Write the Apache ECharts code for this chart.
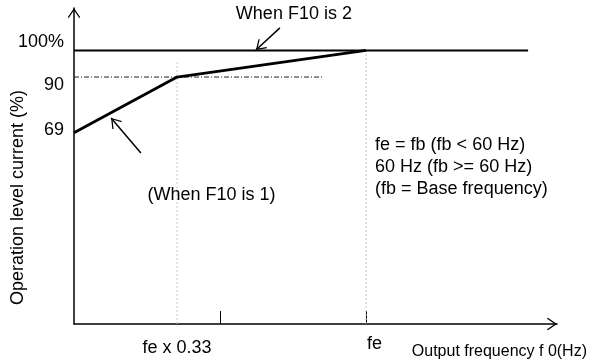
<!DOCTYPE html>
<html>
<head>
<meta charset="utf-8">
<script src="https://cdn.jsdelivr.net/npm/echarts@6/dist/echarts.min.js"></script>
<style>
  html, body { margin: 0; padding: 0; background: #fff; }
  #chart { width: 589px; height: 364px; }
</style>
</head>
<body>
<div id="chart"></div>
<script>
// x is in units of fe (fe = 1), y is operation level current in %
const lineF10is1 = [[0, 69], [0.353, 90], [1, 100]];
const lineF10is2 = [[0, 100], [1.555, 100]];
const level90 = [[0, 90], [0.853, 90]];
const guideBend = [[0.353, -3], [0.353, 95.6]];
const guideFe = [[1, -3], [1, 100]];

const yLabelValues = [100, 90, 69];
const yLabelTexts = ["100%", "90", "69"];
const xLabelValues = [0.353, 1];
const xLabelTexts = ["fe x 0.33", "fe"];
const xTickValues = [0.5, 1];

// pointer arrows, [from, to]
const arrowF10is2 = [[0.705, 108.5], [0.623, 100.2]];
const arrowF10is1 = [[0.229, 61.4], [0.127, 74.6]];

const noteTexts = [
  "When F10 is 2",
  "(When F10 is 1)",
  "fe = fb (fb < 60 Hz)\n60 Hz (fb >= 60 Hz)\n(fb = Base frequency)",
];
const noteAnchors = [[0.753, 113.8], [0.471, 45.6], [1.031, 56.1]];

// open chevron, tip at the centre of its box
const chevron =
  "path://M0,0 L0,0 Z M100,0 L100,0 Z M50,50 L81,96 L76,100 L50,61 L24,100 L19,96 Z";

const font = "Liberation Sans";
const chart = echarts.init(document.getElementById("chart"));

const yRich = {
  a: { fontSize: 18, fontFamily: font, color: "#000", padding: [0, 0, 16, 0] },
  b: { fontSize: 18, fontFamily: font, color: "#000", padding: [16, 0, 0, 0] },
  c: { fontSize: 18, fontFamily: font, color: "#000", padding: [0, 0, 5, 0] },
};
const xRich = {
  a: { fontSize: 18, fontFamily: font, color: "#000", padding: [4, 0, 0, 0] },
  b: { fontSize: 18, fontFamily: font, color: "#000", padding: [0, 0, 0, 17] },
};

const option = {
  animation: false,
  backgroundColor: "#fff",
  grid: {
    left: 74,
    right: 32,
    top: 8,
    bottom: 40,
    containLabel: false,
    outerBoundsMode: "none",
  },
  xAxis: {
    type: "value",
    min: 0,
    max: 1.654,
    position: "bottom",
    name: "Output frequency f 0(Hz)",
    nameLocation: "end",
    nameGap: 30,
    nameMoveOverlap: false,
    nameTextStyle: {
      fontFamily: font,
      fontSize: 16,
      color: "#000",
      align: "right",
      verticalAlign: "top",
      padding: [20, 0, 0, 0],
    },
    axisLine: {
      onZero: false,
      symbol: ["none", chevron],
      symbolSize: [20, 20],
      lineStyle: { color: "#000", width: 1.5 },
    },
    axisTick: {
      show: true,
      inside: true,
      length: 13,
      customValues: xTickValues,
      lineStyle: { color: "#000", width: 1 },
    },
    axisLabel: {
      show: true,
      customValues: xLabelValues,
      margin: 11,
      formatter: function (v) {
        const i = xLabelValues.indexOf(v);
        if (i < 0) return "";
        return "{" + (i === 0 ? "a" : "b") + "|" + xLabelTexts[i] + "}";
      },
      rich: xRich,
    },
    splitLine: { show: false },
  },
  yAxis: {
    type: "value",
    min: -3,
    max: 116,
    name: "Operation level current (%)",
    nameLocation: "middle",
    nameGap: 47,
    nameMoveOverlap: false,
    nameTextStyle: {
      fontFamily: font,
      fontSize: 18,
      color: "#000",
      padding: [0, 63, 0, 0],
    },
    axisLine: {
      show: true,
      symbol: ["none", chevron],
      symbolSize: [20, 20],
      lineStyle: { color: "#000", width: 1.5 },
    },
    axisTick: { show: false },
    axisLabel: {
      show: true,
      customValues: yLabelValues,
      margin: 10,
      formatter: function (v) {
        const i = yLabelValues.indexOf(v);
        if (i < 0) return "";
        return "{" + ["a", "b", "c"][i] + "|" + yLabelTexts[i] + "}";
      },
      rich: yRich,
    },
    splitLine: { show: false },
  },
  series: [
    {
      name: "guide bend",
      type: "line",
      data: guideBend,
      symbol: "none",
      lineStyle: { color: "#c4c4c4", width: 1, type: [2, 2] },
      z: 1,
    },
    {
      name: "guide fe",
      type: "line",
      data: guideFe,
      symbol: "none",
      lineStyle: { color: "#c4c4c4", width: 1, type: [2, 2] },
      z: 1,
    },
    {
      name: "90 level",
      type: "line",
      data: level90,
      symbol: "none",
      lineStyle: { color: "#222", width: 1, type: [5, 2, 1, 2] },
      z: 2,
    },
    {
      name: "When F10 is 2",
      type: "line",
      data: lineF10is2,
      symbol: "none",
      lineStyle: { color: "#000", width: 2 },
      z: 3,
    },
    {
      name: "When F10 is 1",
      type: "line",
      data: lineF10is1,
      symbol: "none",
      lineStyle: { color: "#000", width: 2.8 },
      z: 4,
    },
    {
      name: "pointers",
      type: "lines",
      coordinateSystem: "cartesian2d",
      symbol: ["none", chevron],
      symbolSize: 20,
      lineStyle: { color: "#000", width: 1.5, opacity: 1 },
      data: [{ coords: arrowF10is2 }, { coords: arrowF10is1 }],
      z: 5,
    },
    {
      name: "notes",
      type: "scatter",
      symbolSize: 0,
      silent: true,
      data: noteTexts.map(function (t, i) {
        const item = { value: noteAnchors[i].concat([i]) };
        if (i === 2) {
          item.label = { position: "right", distance: 0, align: "left" };
        }
        return item;
      }),
      label: {
        show: true,
        position: "inside",
        fontFamily: font,
        fontSize: 18,
        lineHeight: 22,
        color: "#000",
        opacity: 1,
        formatter: function (p) {
          return noteTexts[p.value[2]];
        },
      },
      z: 6,
    },
  ],
};

chart.setOption(option);
</script>
</body>
</html>
